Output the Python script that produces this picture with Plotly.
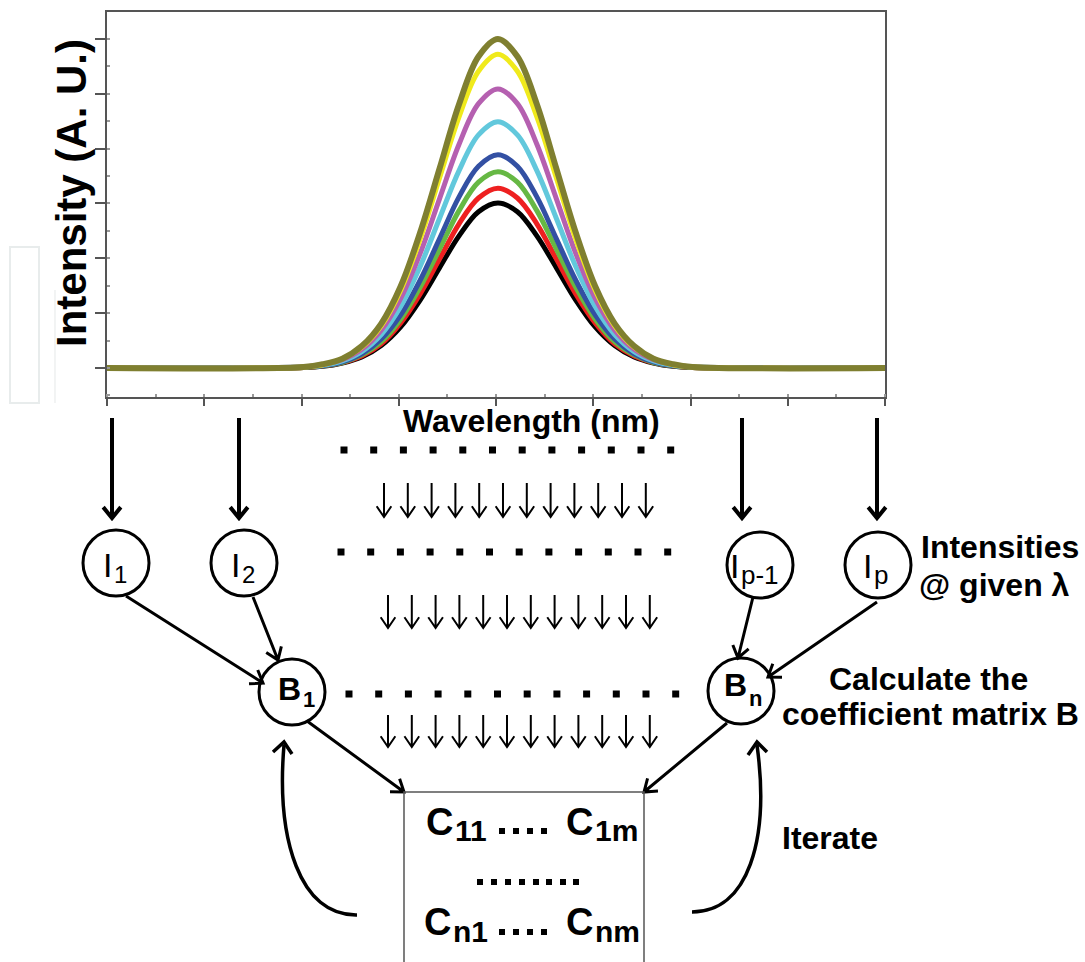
import math
import plotly.graph_objects as go

# ---------------- data ----------------
wavelength = [300, 401, 411, 421, 431, 441, 451, 461, 471, 481, 491, 501,
              511, 521, 531, 541, 551, 561, 571, 581, 591, 601, 700]

black = [0, 0.01, 0.03, 0.09, 0.20, 0.41, 0.75, 1.24, 1.83, 2.41, 2.85, 3.01,
         2.85, 2.41, 1.83, 1.24, 0.75, 0.41, 0.20, 0.09, 0.03, 0.01, 0]
red = [0, 0.01, 0.04, 0.10, 0.22, 0.44, 0.82, 1.35, 1.99, 2.63, 3.10, 3.28,
       3.10, 2.63, 1.99, 1.35, 0.82, 0.44, 0.22, 0.10, 0.04, 0.01, 0]
green = [0, 0.01, 0.04, 0.10, 0.24, 0.48, 0.89, 1.47, 2.17, 2.87, 3.39, 3.58,
         3.39, 2.87, 2.17, 1.47, 0.89, 0.48, 0.24, 0.10, 0.04, 0.01, 0]
blue = [0, 0.02, 0.04, 0.11, 0.26, 0.53, 0.97, 1.60, 2.36, 3.12, 3.68, 3.89,
        3.68, 3.12, 2.36, 1.60, 0.97, 0.53, 0.26, 0.11, 0.04, 0.02, 0]
cyan = [0, 0.02, 0.05, 0.13, 0.30, 0.61, 1.12, 1.85, 2.73, 3.60, 4.25, 4.49,
        4.25, 3.60, 2.73, 1.85, 1.12, 0.61, 0.30, 0.13, 0.05, 0.02, 0]
magenta = [0, 0.02, 0.06, 0.15, 0.34, 0.69, 1.27, 2.09, 3.09, 4.08, 4.82, 5.09,
           4.82, 4.08, 3.09, 2.09, 1.27, 0.69, 0.34, 0.15, 0.06, 0.02, 0]
yellow = [0, 0.02, 0.06, 0.17, 0.38, 0.77, 1.42, 2.35, 3.47, 4.58, 5.41, 5.72,
          5.41, 4.58, 3.47, 2.35, 1.42, 0.77, 0.38, 0.17, 0.06, 0.02, 0]
olive = [0, 0.02, 0.07, 0.17, 0.40, 0.81, 1.49, 2.47, 3.64, 4.81, 5.68, 6.00,
         5.68, 4.81, 3.64, 2.47, 1.49, 0.81, 0.40, 0.17, 0.07, 0.02, 0]

x_ticks = [300, 350, 400, 450, 500, 550, 600, 650, 700]
y_ticks = [0, 1, 2, 3, 4, 5, 6]

# ---------------- styles ----------------
series = [
    (black, "#000000", 5),
    (red, "#ee2020", 5),
    (green, "#66b844", 5),
    (blue, "#3350a3", 5),
    (cyan, "#62c8dc", 5),
    (magenta, "#b560b0", 5),
    (yellow, "#f0ea1c", 5),
    (olive, "#7f7f30", 6),
]

W, H = 1085, 962
FONT = "Liberation Sans, Arial, sans-serif"
AX = "#555555"


def px(x):
    return x / W


def py(y):
    return 1 - y / H


fig = go.Figure()
for vals, color, lw in series:
    fig.add_trace(go.Scatter(
        x=wavelength, y=vals, mode="lines",
        line=dict(color=color, width=lw, shape="spline", smoothing=1.0),
        showlegend=False, hoverinfo="skip"))

fig.update_layout(
    width=W, height=H, margin=dict(l=0, r=0, t=0, b=0),
    paper_bgcolor="white", plot_bgcolor="white", showlegend=False,
    xaxis=dict(domain=[px(107), px(885)], range=[300, 700],
               tickmode="array", tickvals=x_ticks, showticklabels=False,
               ticks="outside", ticklen=7, tickwidth=2, tickcolor=AX,
               showline=True, linecolor=AX, linewidth=2, mirror=True,
               showgrid=False, zeroline=False,
               minor=dict(ticks="inside", ticklen=3, dtick=25, tickcolor="#999999", showgrid=False)),
    yaxis=dict(domain=[py(397), py(12)], range=[-0.529, 6.492],
               tickmode="array", tickvals=y_ticks, showticklabels=False,
               ticks="outside", ticklen=10, tickwidth=2, tickcolor=AX,
               showline=True, linecolor=AX, linewidth=2, mirror=True,
               showgrid=False, zeroline=False,
               minor=dict(ticks="inside", ticklen=3, dtick=0.5, tickcolor="#999999", showgrid=False)),
)


def poly_path(polys):
    parts = []
    for poly in polys:
        parts.append("M " + " L ".join(f"{px(x):.5f},{py(y):.5f}" for x, y in poly))
    return " ".join(parts)


def add_polys(polys, width, color="black"):
    fig.add_shape(type="path", path=poly_path(polys), xref="paper", yref="paper",
                  line=dict(color=color, width=width), layer="above")


def arrow(x0, y0, x1, y1, head=14, spread=0.62):
    ang = math.atan2(y1 - y0, x1 - x0)
    w1 = (x1 - head * math.cos(ang - spread), y1 - head * math.sin(ang - spread))
    w2 = (x1 - head * math.cos(ang + spread), y1 - head * math.sin(ang + spread))
    return [[(x0, y0), (x1, y1)], [w1, (x1, y1), w2]]


# faint artefacts at the left of the panel
fig.add_shape(type="rect", x0=px(10), x1=px(39), y0=py(403), y1=py(247),
              xref="paper", yref="paper", line=dict(color="#e8ecec", width=2))
add_polys([[(55, 290), (55, 403)]], 1.5, "#eef0f0")

# big arrows below the plot
big = []
for xa in [112, 239, 742, 877]:
    big += arrow(xa, 418, xa, 518, head=14, spread=0.68)
add_polys(big, 4)

# rows of small arrows
rows = [(384, 483, 517), (388, 595, 628), (388, 715, 747)]
for x0, ytop, ybot in rows:
    polys = []
    for i in range(12):
        xa = x0 + i * 23.8
        polys += arrow(xa, ytop, xa, ybot, head=13, spread=0.6)
    add_polys(polys, 2)


# rows of square dots
def dots_path(centers, s):
    parts = []
    for cx, cy in centers:
        h = s / 2
        parts.append(f"M {px(cx-h):.5f},{py(cy-h):.5f} L {px(cx+h):.5f},{py(cy-h):.5f} "
                     f"L {px(cx+h):.5f},{py(cy+h):.5f} L {px(cx-h):.5f},{py(cy+h):.5f} Z")
    return " ".join(parts)


dot_centers = []
for x0, yd in [(344, 450), (341, 552), (349, 694)]:
    dot_centers += [(x0 + i * 29.7, yd) for i in range(12)]
box_dots = [(502, 831), (516, 831), (530, 831), (544, 831),
            (480, 882), (494, 882), (508, 882), (522, 882), (536, 882), (549, 882), (563, 882), (576, 882),
            (502, 932), (516, 932), (530, 932), (544, 932)]
fig.add_shape(type="path", path=dots_path(dot_centers, 7), xref="paper", yref="paper",
              line=dict(width=0), fillcolor="black", layer="above")
fig.add_shape(type="path", path=dots_path(box_dots, 6), xref="paper", yref="paper",
              line=dict(width=0), fillcolor="black", layer="above")

# circles
R = 33
for cx, cy in [(116, 563), (244, 563), (760, 565), (878, 565), (292, 692), (741, 691)]:
    fig.add_shape(type="circle", x0=px(cx - R), x1=px(cx + R), y0=py(cy + R), y1=py(cy - R),
                  xref="paper", yref="paper", line=dict(color="black", width=3), layer="above")

# arrows between nodes
node_arrows = []
node_arrows += arrow(126, 596, 263, 683)
node_arrows += arrow(253, 597, 278, 660)
node_arrows += arrow(753, 597, 738, 658)
node_arrows += arrow(877, 602, 768, 677)
node_arrows += arrow(307, 721, 404, 792)
node_arrows += arrow(727, 723, 644, 792)
add_polys(node_arrows, 3)

# matrix box
add_polys([[(404, 965), (404, 792), (644, 792), (644, 965)]], 1.5, "#555555")

# curved "iterate" arrows
fig.add_shape(type="path", xref="paper", yref="paper", layer="above",
              path=f"M {px(357)},{py(915)} C {px(300)},{py(916)} {px(276)},{py(840)} {px(284)},{py(745)}",
              line=dict(color="black", width=3.5))
fig.add_shape(type="path", xref="paper", yref="paper", layer="above",
              path=f"M {px(692)},{py(912)} C {px(748)},{py(912)} {px(770)},{py(840)} {px(757)},{py(745)}",
              line=dict(color="black", width=3.5))
add_polys([[(273, 752), (284, 742), (292, 754)], [(748, 755), (757, 742), (767, 752)]], 3.5)


# texts
def text(x, y, s, size, bold=False, xanchor="center", angle=0):
    fig.add_annotation(x=px(x), y=py(y), xref="paper", yref="paper",
                       text=f"<b>{s}</b>" if bold else s, showarrow=False,
                       font=dict(family=FONT, size=size, color="black"),
                       xanchor=xanchor, yanchor="middle", textangle=angle, borderpad=0)


def sublabel(xj, ym, main, ys, sub, ms, ss, bold):
    text(xj, ym, main, ms, bold, xanchor="right")
    text(xj, ys, sub, ss, bold, xanchor="left")


text(72, 193, "Intensity (A. U.)", 42, True, angle=-90)
text(531, 421, "Wavelength (nm)", 32, True)
text(1000, 547, "Intensities", 32, True)
text(994, 585, "@ given λ", 32, True)
text(928, 679, "Calculate the", 32, True)
text(930, 714, "coefficient matrix B", 32, True)
text(830, 838, "Iterate", 32, True)

sublabel(113, 565, "I", 574, "1", 34, 24, False)
sublabel(241, 565, "I", 574, "2", 34, 24, False)
sublabel(740, 566, "I", 575, "p-1", 34, 26, False)
sublabel(873, 566, "I", 575, "p", 34, 26, False)
sublabel(302, 689, "B", 699, "1", 32, 22, True)
sublabel(748, 685, "B", 698, "n", 32, 22, True)

sublabel(454, 822, "C", 830, "11", 38, 30, True)
sublabel(594, 822, "C", 830, "1m", 38, 30, True)
sublabel(452, 922, "C", 931, "n1", 38, 30, True)
sublabel(594, 922, "C", 931, "nm", 38, 30, True)

fig.write_html("out.html")
